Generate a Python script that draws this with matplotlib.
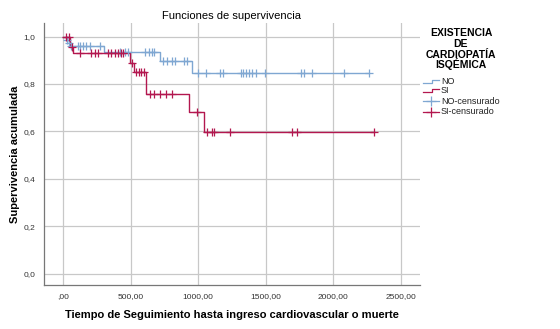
import matplotlib
matplotlib.use("Agg")
import matplotlib.pyplot as plt
from matplotlib.lines import Line2D

plt.rcParams['font.family'] = ['Liberation Sans', 'DejaVu Sans']

# Kaplan-Meier step data (time, survival after the step)
no_times = [0, 30, 45, 60, 300, 720, 955, 2265]
no_surv = [1.0, 0.987, 0.974, 0.961, 0.934, 0.895, 0.845, 0.845]
si_times = [0, 50, 70, 497, 525, 616, 935, 1041, 2302]
si_surv = [1.0, 0.957, 0.929, 0.890, 0.852, 0.757, 0.680, 0.598, 0.598]

# censored observations
no_cens_t = [30, 45, 60, 109, 126, 146, 170, 200, 269, 423, 460, 477, 608, 633,
             658, 675, 739, 769, 806, 831, 893, 917, 1000, 1055, 1160, 1180,
             1315, 1335, 1355, 1375, 1400, 1425, 1495, 1760, 1780, 1840, 2080, 2265]
si_cens_t = [20, 40, 64, 126, 205, 235, 260, 330, 356, 380, 406, 425, 445, 510,
             539, 559, 576, 596, 640, 670, 720, 764, 806, 992, 1066, 1103, 1115,
             1234, 1696, 1728, 2302]

x_ticks = [0, 500, 1000, 1500, 2000, 2500]
x_labels = [',00', '500,00', '1000,00', '1500,00', '2000,00', '2500,00']
y_ticks = [0.0, 0.2, 0.4, 0.6, 0.8, 1.0]
y_labels = ['0,0', '0,2', '0,4', '0,6', '0,8', '1,0']

blue = '#7fa7d2'
red = '#b3174f'


def surv_at(t, times, surv):
    s = surv[0]
    for ti, si in zip(times, surv):
        if ti <= t:
            s = si
    return s


fig = plt.figure(figsize=(5.6, 3.29), dpi=100)
ax = fig.add_axes([44 / 560, 1 - 285 / 329, (420 - 44) / 560, (285 - 23) / 329])

ax.step(no_times, no_surv, where='post', color=blue, lw=1.0, zorder=3)
ax.step(si_times, si_surv, where='post', color=red, lw=1.0, zorder=3)
ax.plot(no_cens_t, [surv_at(t, no_times, no_surv) for t in no_cens_t], '+',
        color=blue, ms=5.5, mew=0.9, zorder=4)
ax.plot(si_cens_t, [surv_at(t, si_times, si_surv) for t in si_cens_t], '+',
        color=red, ms=5.5, mew=0.9, zorder=4)

ax.set_xlim(-143, 2643)
ax.set_ylim(-0.0485, 1.057)
ax.set_xticks(x_ticks)
ax.set_xticklabels(x_labels)
ax.set_yticks(y_ticks)
ax.set_yticklabels(y_labels)
ax.tick_params(length=0, labelsize=6, colors='#333333', pad=6)
ax.grid(True, color='#c8c8c8', lw=0.9)
ax.set_axisbelow(True)
for side in ['top', 'right']:
    ax.spines[side].set_visible(False)
for side in ['left', 'bottom']:
    ax.spines[side].set_color('#777777')
    ax.spines[side].set_linewidth(0.9)

ax.set_title('Funciones de supervivencia', fontsize=8, pad=3)
ax.set_xlabel('Tiempo de Seguimiento hasta ingreso cardiovascular o muerte',
              fontsize=8, fontweight='bold', labelpad=7)
ax.set_ylabel('Supervivencia acumulada', fontsize=8, fontweight='bold', labelpad=3)

# legend drawn by hand
def fx(px):
    return px / 560


def fy(py):
    return 1 - py / 329


for txt, py in [('EXISTENCIA', 33), ('DE', 44), ('CARDIOPATÍA', 54.5), ('ISQÉMICA', 64.5)]:
    fig.text(fx(461), fy(py), txt, ha='center', va='center', fontsize=7.5,
             fontweight='bold')

entries = [('NO', blue, 'step', 81), ('SI', red, 'step', 90.5),
           ('NO-censurado', blue, 'cens', 101), ('SI-censurado', red, 'cens', 111.5)]
for label, col, kind, py in entries:
    if kind == 'step':
        xs = [fx(423), fx(432), fx(432), fx(439)]
        ys = [fy(py + 1.5), fy(py + 1.5), fy(py - 1.5), fy(py - 1.5)]
        fig.add_artist(Line2D(xs, ys, color=col, lw=0.9))
    else:
        fig.add_artist(Line2D([fx(423), fx(439)], [fy(py), fy(py)], color=col, lw=0.9))
        fig.add_artist(Line2D([fx(431)], [fy(py)], marker='+', color=col, ms=7, mew=0.9))
    fig.text(fx(441), fy(py), label, ha='left', va='center', fontsize=6.5, color='#222222')

fig.savefig('out.png', dpi=100)
